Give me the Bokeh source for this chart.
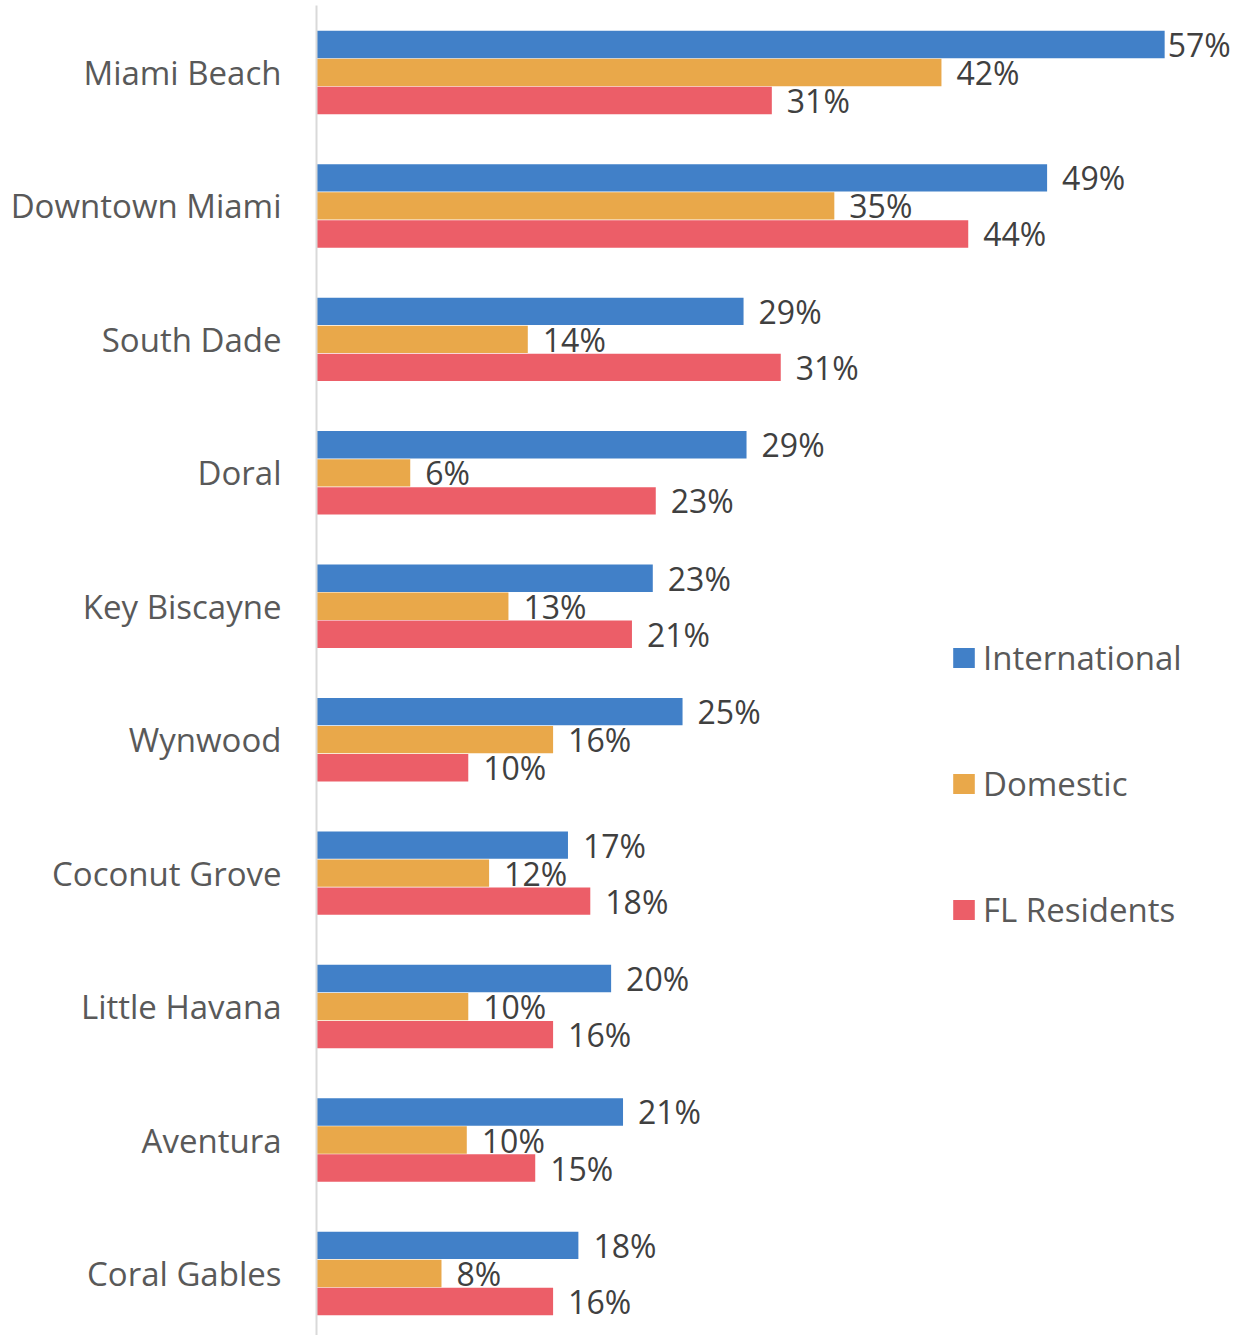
from bokeh.plotting import figure
from bokeh.models import ColumnDataSource, Range1d, FixedTicker, Legend, LegendItem
from bokeh.core.properties import value
from bokeh.embed import file_html
from bokeh.resources import INLINE

categories = ["Miami Beach", "Downtown Miami", "South Dade", "Doral", "Key Biscayne",
              "Wynwood", "Coconut Grove", "Little Havana", "Aventura", "Coral Gables"]
international = [57.0, 49.1, 28.7, 28.9, 22.6, 24.6, 16.9, 19.8, 20.6, 17.6]
domestic = [42.0, 34.8, 14.2, 6.3, 12.9, 15.9, 11.6, 10.2, 10.1, 8.4]
fl_residents = [30.6, 43.8, 31.2, 22.8, 21.2, 10.2, 18.4, 15.9, 14.7, 15.9]
series_names = ["International", "Domestic", "FL Residents"]

colors = ["#4180C8", "#E9A84A", "#EC5E68"]
FONT = "Open Sans"
FS_AXIS = "33px"
FS_LABEL = "32px"

FIG_W = 1248
FRAME_LEFT = 316
PX_PER_PCT = 14.88

p = figure(width=FIG_W, height=1335, output_backend="svg", toolbar_location=None,
           x_range=Range1d(0, (FIG_W - FRAME_LEFT) / PX_PER_PCT),
           y_range=Range1d(9.465, -0.502),
           x_axis_location=None, min_border_left=FRAME_LEFT, min_border_right=0,
           min_border_top=5, min_border_bottom=0)
p.outline_line_color = None
p.grid.visible = False

offsets = [-0.21, 0.0, 0.21]
all_series = [international, domestic, fl_residents]
vmax = max(max(s) for s in all_series)
items = []
for name, vals, col, off in zip(series_names, all_series, colors, offsets):
    src = ColumnDataSource(dict(
        y=[i + off for i in range(len(categories))],
        v=vals,
        label=[f"{v:.0f}%" for v in vals],
        xoff=[3 if v >= vmax else 15 for v in vals],
    ))
    r = p.hbar(y="y", left=0, right="v", height=0.205, color=col, line_color=None, source=src)
    p.text(x="v", y="y", text="label", x_offset="xoff", text_baseline="middle",
           text_align="left", text_font=value(FONT), text_font_size=FS_LABEL,
           text_color="#404040", source=src)
    items.append(LegendItem(label=name, renderers=[r]))

p.yaxis.ticker = FixedTicker(ticks=list(range(len(categories))))
p.yaxis.major_label_overrides = {i: c for i, c in enumerate(categories)}
p.yaxis.major_label_text_font = FONT
p.yaxis.major_label_text_font_size = FS_AXIS
p.yaxis.major_label_text_color = "#595959"
p.yaxis.major_label_standoff = 29
p.yaxis.major_tick_line_color = None
p.yaxis.minor_tick_line_color = None
p.yaxis.axis_line_color = "#D9D9D9"
p.yaxis.axis_line_width = 2

legend = Legend(items=items, location=(634, 403), orientation="vertical",
                glyph_width=27, glyph_height=25, label_standoff=6, spacing=81,
                label_height=20, label_text_font=FONT, label_text_font_size=FS_AXIS,
                label_text_color="#595959", border_line_color=None,
                background_fill_alpha=0, padding=0, margin=0)
p.add_layout(legend)

open("out.html", "w").write(file_html(p, INLINE))
